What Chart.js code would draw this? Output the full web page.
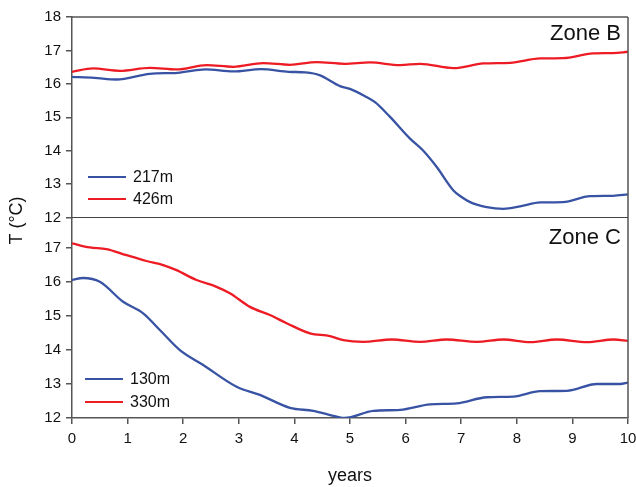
<!DOCTYPE html>
<html>
<head>
<meta charset="utf-8">
<script src="https://cdn.jsdelivr.net/npm/chart.js@4/dist/chart.umd.min.js"></script>
<style>
html,body{margin:0;padding:0;background:#fff;}
#wrap{width:636px;height:487px;position:relative;}
</style>
</head>
<body>
<div id="wrap"><canvas id="c" width="636" height="487"></canvas></div>
<script>
// ---- data ----
const xTicks = [0,1,2,3,4,5,6,7,8,9,10];
const yTicksB = [12,13,14,15,16,17,18];
const yTicksC = [12,13,14,15,16,17];
const zoneLabels = ["Zone B", "Zone C"];
const seriesNames = ["217m", "426m", "130m", "330m"];

const tB217 = [0,0.4,0.8,1.4,1.9,2.4,2.9,3.4,3.9,4.2,4.45,4.82,5.0,5.27,5.45,5.72,6.08,6.31,6.56,6.86,7.0,7.16,7.46,7.76,8.06,8.42,8.83,9.32,9.73,10];
const vB217 = [16.21,16.18,16.13,16.30,16.33,16.43,16.37,16.44,16.36,16.34,16.26,15.93,15.85,15.63,15.45,15.01,14.36,14.01,13.51,12.81,12.62,12.46,12.31,12.26,12.33,12.45,12.46,12.64,12.65,12.69];

const tB426 = [0,0.38,0.86,1.4,1.88,2.42,2.9,3.44,3.92,4.4,4.9,5.36,5.9,6.26,6.86,7.4,7.88,8.42,8.83,9.37,9.73,10];
const vB426 = [16.36,16.46,16.39,16.48,16.43,16.56,16.51,16.62,16.57,16.65,16.60,16.64,16.56,16.60,16.47,16.61,16.63,16.76,16.77,16.91,16.92,16.96];

const tC130 = [0,0.2,0.5,0.92,1.28,1.58,1.94,2.36,2.96,3.38,3.92,4.34,4.76,4.9,5.42,5.9,6.44,6.92,7.46,7.94,8.42,8.9,9.44,9.86,10];
const vC130 = [16.06,16.12,16.01,15.42,15.08,14.59,14.00,13.56,12.92,12.68,12.30,12.21,12.04,12.00,12.21,12.24,12.40,12.43,12.61,12.63,12.79,12.80,13.00,13.00,13.04];

const tC330 = [0,0.32,0.62,0.98,1.34,1.64,1.88,2.24,2.6,2.84,3.2,3.56,3.86,4.28,4.64,4.88,5.24,5.75,6.26,6.74,7.28,7.76,8.24,8.72,9.26,9.74,10];
const vC330 = [17.14,17.02,16.97,16.79,16.62,16.50,16.35,16.06,15.86,15.67,15.27,15.03,14.79,14.49,14.41,14.29,14.24,14.31,14.24,14.31,14.24,14.31,14.23,14.31,14.23,14.31,14.27];

const BLUE = '#3853a4';
const RED = '#ed1c24';
const AXIS = '#555555';
const FONT = "'Liberation Sans', Arial, sans-serif";

function pts(t, v){ return t.map((x,i)=>({x:x, y:v[i]})); }

const panelPlugin = {
  id: 'panels',
  afterDraw(chart){
    const ctx = chart.ctx;
    const a = chart.chartArea;
    const yB = chart.scales.yB, yC = chart.scales.yC;
    ctx.save();
    ctx.strokeStyle = AXIS;
    ctx.lineWidth = 1.5;
    ctx.beginPath();
    ctx.moveTo(a.left, a.top); ctx.lineTo(a.right, a.top);
    ctx.moveTo(a.right, a.top); ctx.lineTo(a.right, a.bottom);
    ctx.stroke();
    ctx.strokeStyle = '#444';
    ctx.lineWidth = 1.2;
    ctx.beginPath();
    ctx.moveTo(a.left, yB.bottom); ctx.lineTo(a.right, yB.bottom);
    ctx.stroke();

    ctx.fillStyle = '#111';
    ctx.font = '22px ' + FONT;
    ctx.textAlign = 'right';
    ctx.textBaseline = 'alphabetic';
    ctx.fillText(zoneLabels[0], a.right - 7, yB.top + 23);
    ctx.fillText(zoneLabels[1], a.right - 7, yC.top + 26);

    const ds = chart.data.datasets;
    const drawLeg = (d, x0, y) => {
      ctx.strokeStyle = d.borderColor;
      ctx.lineWidth = 2.2;
      ctx.beginPath(); ctx.moveTo(x0, y); ctx.lineTo(x0 + 38, y); ctx.stroke();
      ctx.fillStyle = '#111';
      ctx.font = '16px ' + FONT;
      ctx.textAlign = 'left';
      ctx.textBaseline = 'middle';
      ctx.fillText(d.label, x0 + 45, y + 1);
    };
    drawLeg(ds[0], a.left + 16, 177);
    drawLeg(ds[1], a.left + 16, 199);
    drawLeg(ds[2], a.left + 13, 379);
    drawLeg(ds[3], a.left + 13, 402);

    ctx.save();
    ctx.translate(17, (a.top + a.bottom) / 2 + 3);
    ctx.rotate(-Math.PI / 2);
    ctx.fillStyle = '#111';
    ctx.font = '18px ' + FONT;
    ctx.textAlign = 'center';
    ctx.textBaseline = 'middle';
    ctx.fillText('T (°C)', 0, 0);
    ctx.restore();
    ctx.restore();
  }
};

const tickFont = {family: FONT, size: 15};
const gridOpt = {display: true, drawOnChartArea: false, drawTicks: true, tickLength: 6, color: AXIS, lineWidth: 1.5};
const borderOpt = {display: true, color: AXIS, width: 1.5};

new Chart(document.getElementById('c'), {
  type: 'line',
  data: {
    datasets: [
      {label: seriesNames[0], data: pts(tB217, vB217), yAxisID: 'yB', borderColor: BLUE},
      {label: seriesNames[1], data: pts(tB426, vB426), yAxisID: 'yB', borderColor: RED},
      {label: seriesNames[2], data: pts(tC130, vC130), yAxisID: 'yC', borderColor: BLUE},
      {label: seriesNames[3], data: pts(tC330, vC330), yAxisID: 'yC', borderColor: RED}
    ]
  },
  options: {
    responsive: false,
    animation: false,
    devicePixelRatio: 1,
    layout: {padding: {top: 17, right: 8, bottom: 0, left: 0}},
    elements: {
      point: {radius: 0},
      line: {borderWidth: 2.3, cubicInterpolationMode: 'monotone', fill: false}
    },
    plugins: {legend: {display: false}, tooltip: {enabled: false}},
    scales: {
      x: {
        type: 'linear', min: 0, max: 10,
        afterBuildTicks: s => { s.ticks = xTicks.map(v => ({value: v})); },
        afterFit: s => { s.height = 69; s.paddingRight = 0; s.paddingLeft = 0; },
        ticks: {font: tickFont, color: '#111', padding: 6, maxRotation: 0, autoSkip: false},
        grid: gridOpt,
        border: borderOpt,
        title: {display: true, text: 'years', font: {family: FONT, size: 18}, color: '#111', padding: {top: 0, bottom: 0}}
      },
      yC: {
        type: 'linear', position: 'left', stack: 'v', stackWeight: 1,
        min: 12, max: 17.9,
        afterBuildTicks: s => { s.ticks = yTicksC.map(v => ({value: v})); },
        afterFit: s => { s.width = 72; },
        ticks: {font: tickFont, color: '#111', padding: 5, autoSkip: false},
        grid: gridOpt,
        border: borderOpt
      },
      yB: {
        type: 'linear', position: 'left', stack: 'v', stackWeight: 1,
        min: 12, max: 18,
        afterBuildTicks: s => { s.ticks = yTicksB.map(v => ({value: v})); },
        afterFit: s => { s.width = 72; },
        ticks: {font: tickFont, color: '#111', padding: 5, autoSkip: false},
        grid: gridOpt,
        border: borderOpt
      }
    }
  },
  plugins: [panelPlugin]
});
</script>
</body>
</html>
